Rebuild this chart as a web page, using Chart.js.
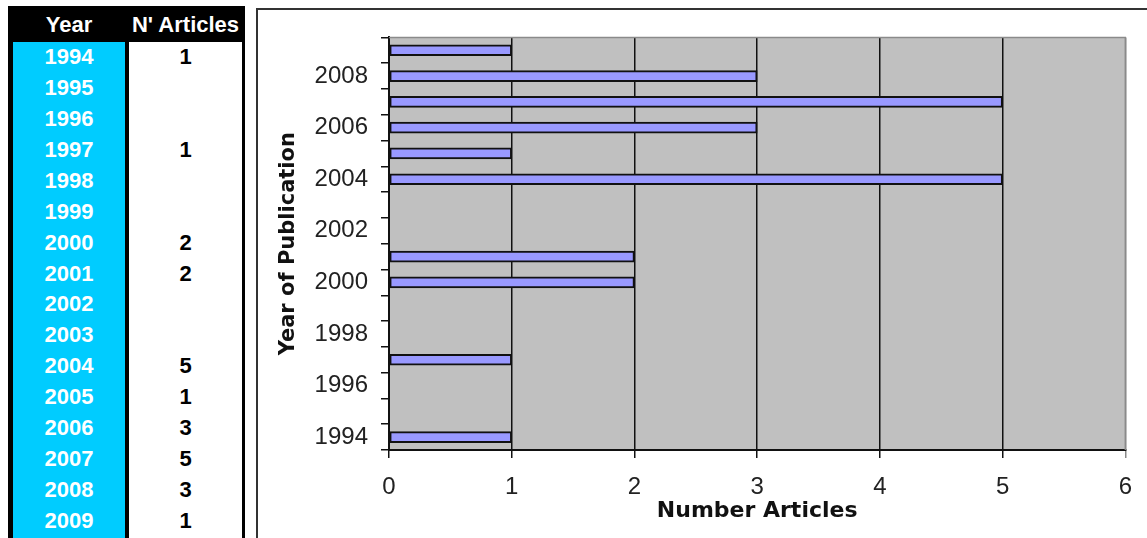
<!DOCTYPE html>
<html>
<head>
<meta charset="utf-8">
<script src="https://cdn.jsdelivr.net/npm/chart.js@4/dist/chart.umd.min.js"></script>
<style>
  html, body { margin: 0; padding: 0; background: #fff; }
  body { width: 1147px; height: 538px; position: relative; overflow: hidden; }
  #table { position: absolute; left: 8px; top: 6px; width: 237px; height: 540px; background: #000; }
  .cell { position: absolute; text-align: center; font: bold 22px "Liberation Sans", Arial, sans-serif; }
  .hdr { color: #fff; top: 0; height: 36px; line-height: 38px; }
  #colYear { position: absolute; left: 5px; top: 36px; width: 112px; height: 510px; background: #00CCFF; }
  #colCount { position: absolute; left: 121px; top: 36px; width: 113px; height: 510px; background: #fff; }
  #frame { position: absolute; left: 256px; top: 8px; width: 900px; height: 540px;
           border-left: 2px solid #333; border-top: 2px solid #333; }
  #wrap { position: absolute; left: 258px; top: 10px; width: 889px; height: 528px; }
</style>
</head>
<body>
<div id="table">
  <div id="colYear"></div>
  <div id="colCount"></div>
</div>
<div id="frame"></div>
<div id="wrap"><canvas id="chart"></canvas></div>
<script>
// Publication years and number of articles per year (null = none)
const years = ['1994','1995','1996','1997','1998','1999','2000','2001',
               '2002','2003','2004','2005','2006','2007','2008','2009'];
const articles = [1, null, null, 1, null, null, 2, 2, null, null, 5, 1, 3, 5, 3, 1];
const tableHeaders = ['Year', "N' Articles"];
const xTicks = [0, 1, 2, 3, 4, 5, 6];
const labeledYears = ['1994','1996','1998','2000','2002','2004','2006','2008'];

// Left-hand data table
(function buildTable() {
  const table = document.getElementById('table');
  const rowH = 30.93;
  const cols = [{ left: 5, width: 112 }, { left: 121, width: 113 }];
  tableHeaders.forEach((h, i) => {
    const d = document.createElement('div');
    d.className = 'cell hdr';
    d.style.left = cols[i].left + 'px';
    d.style.width = cols[i].width + 'px';
    d.textContent = h;
    table.appendChild(d);
  });
  years.forEach((y, r) => {
    const top = 36 + r * rowH;
    const a = document.createElement('div');
    a.className = 'cell';
    a.style.color = '#fff';
    a.style.left = cols[0].left + 'px';
    a.style.width = cols[0].width + 'px';
    a.style.top = top + 'px';
    a.style.height = rowH + 'px';
    a.style.lineHeight = rowH + 'px';
    a.textContent = y;
    table.appendChild(a);
    const b = document.createElement('div');
    b.className = 'cell';
    b.style.color = '#000';
    b.style.left = cols[1].left + 'px';
    b.style.width = cols[1].width + 'px';
    b.style.top = top + 'px';
    b.style.height = rowH + 'px';
    b.style.lineHeight = rowH + 'px';
    b.textContent = articles[r] == null ? '' : String(articles[r]);
    table.appendChild(b);
  });
})();

// Grey plot background and the light top/right plot border
const plotFrame = {
  id: 'plotFrame',
  beforeDraw(chart) {
    const { ctx, chartArea: a } = chart;
    ctx.save();
    ctx.fillStyle = '#C0C0C0';
    ctx.fillRect(a.left, a.top, a.right - a.left, a.bottom - a.top);
    ctx.restore();
  },
  afterDraw(chart) {
    const { ctx, chartArea: a } = chart;
    ctx.save();
    ctx.strokeStyle = '#8a8a8a';
    ctx.lineWidth = 1.5;
    ctx.beginPath();
    ctx.moveTo(a.left, a.top);
    ctx.lineTo(a.right, a.top);
    ctx.lineTo(a.right, a.bottom);
    ctx.stroke();
    ctx.restore();
  }
};

new Chart(document.getElementById('chart'), {
  type: 'bar',
  data: {
    labels: years,
    datasets: [{
      data: articles,
      backgroundColor: '#9999FF',
      borderColor: '#111',
      borderWidth: 2,
      borderSkipped: false,
      barThickness: 11
    }]
  },
  options: {
    indexAxis: 'y',
    responsive: true,
    maintainAspectRatio: false,
    animation: false,
    layout: { padding: { top: 26, right: 21, left: 0, bottom: 0 } },
    plugins: { legend: { display: false }, tooltip: { enabled: false } },
    scales: {
      x: {
        min: 0,
        max: 6,
        afterFit(scale) { scale.height = 88; },
        afterBuildTicks(scale) { scale.ticks = xTicks.map(v => ({ value: v })); },
        ticks: {
          stepSize: 1,
          color: '#222',
          padding: 15,
          font: { family: '"Liberation Sans", Arial, sans-serif', size: 24 }
        },
        grid: {
          color: ctx => (ctx.tick && ctx.tick.value === 6 ? '#8a8a8a' : '#111'),
          lineWidth: 1.5,
          tickLength: 8
        },
        border: { color: '#111', width: 2 },
        title: {
          display: true,
          text: 'Number Articles',
          color: '#111',
          font: { family: '"DejaVu Sans", Verdana, sans-serif', size: 22, weight: 'bold' },
          padding: { top: 0, bottom: 14 }
        }
      },
      y: {
        reverse: true,
        afterFit(scale) { scale.width = 131; },
        ticks: {
          autoSkip: false,
          color: '#222',
          padding: 13,
          font: { family: '"Liberation Sans", Arial, sans-serif', size: 24 },
          callback(value) {
            const lbl = this.getLabelForValue(value);
            return labeledYears.includes(lbl) ? lbl : '';
          }
        },
        grid: {
          drawOnChartArea: false,
          color: '#111',
          lineWidth: 1.5,
          tickLength: 8
        },
        border: { color: '#111', width: 2 },
        title: {
          display: true,
          text: 'Year of Publication',
          color: '#111',
          font: { family: '"DejaVu Sans", Verdana, sans-serif', size: 21, weight: 'bold' },
          padding: { top: 18, bottom: 0 }
        }
      }
    }
  },
  plugins: [plotFrame]
});
</script>
</body>
</html>
